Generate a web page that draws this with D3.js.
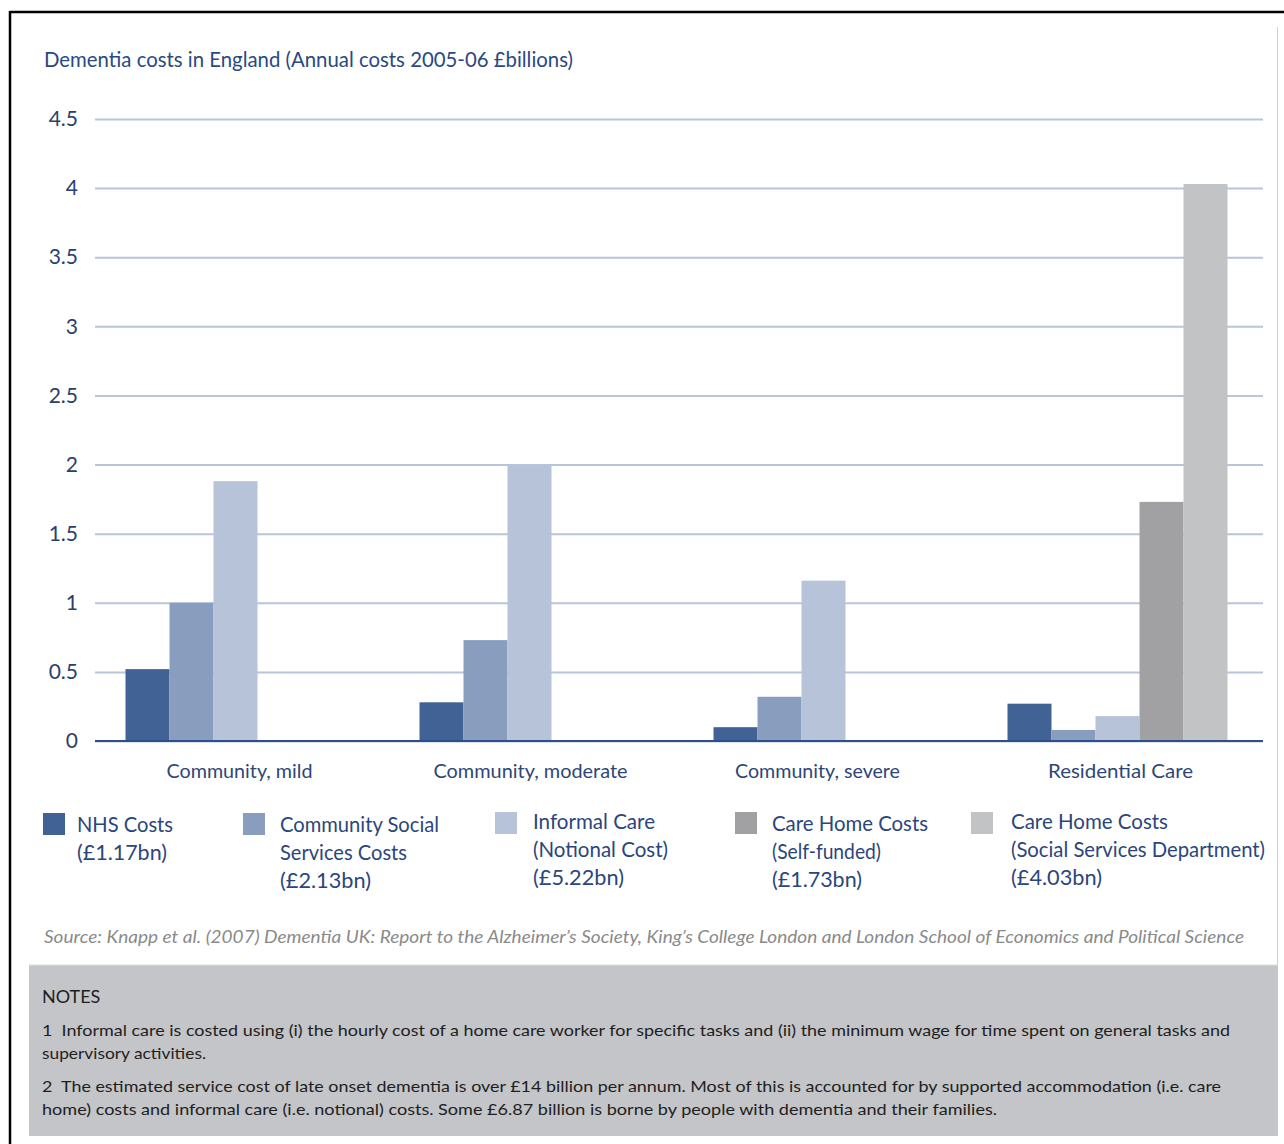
<!DOCTYPE html>
<html>
<head>
<meta charset="utf-8">
<script src="https://cdn.jsdelivr.net/npm/d3@7"></script>
<style>
  html, body { margin: 0; padding: 0; background: #fff; }
  svg { display: block; }
  text { font-family: Lato, "Open Sans", sans-serif; }
</style>
</head>
<body>
<svg id="chart" width="1284" height="1144"></svg>
<script>
// ---------- DATA ----------
const categories = ["Community, mild", "Community, moderate", "Community, severe", "Residential Care"];
const seriesKeys = ["nhs", "communitySocial", "informal", "careHomeSelf", "careHomeSSD"];
const nhsCosts = [0.52, 0.28, 0.10, 0.27];
const communitySocialCosts = [1.00, 0.73, 0.32, 0.08];
const informalCareCosts = [1.88, 1.99, 1.16, 0.18];
const careHomeSelfFunded = [0, 0, 0, 1.73];
const careHomeSocialServices = [0, 0, 0, 4.03];
const yTicks = [0, 0.5, 1, 1.5, 2, 2.5, 3, 3.5, 4, 4.5];
const yTickLabels = ["0", "0.5", "1", "1.5", "2", "2.5", "3", "3.5", "4", "4.5"];
const legendLabels = [
  ["NHS Costs", "(£1.17bn)"],
  ["Community Social", "Services Costs", "(£2.13bn)"],
  ["Informal Care", "(Notional Cost)", "(£5.22bn)"],
  ["Care Home Costs", "(Self-funded)", "(£1.73bn)"],
  ["Care Home Costs", "(Social Services Department)", "(£4.03bn)"]
];
const titleText = "Dementia costs in England (Annual costs 2005-06 £billions)";
const sourceText = "Source: Knapp et al. (2007) Dementia UK: Report to the Alzheimer’s Society, King’s College London and London School of Economics and Political Science";
const notesHeading = "NOTES";
const noteLines = [
  "1  Informal care is costed using (i) the hourly cost of a home care worker for specific tasks and (ii) the minimum wage for time spent on general tasks and",
  "supervisory activities.",
  "2  The estimated service cost of late onset dementia is over £14 billion per annum. Most of this is accounted for by supported accommodation (i.e. care",
  "home) costs and informal care (i.e. notional) costs. Some £6.87 billion is borne by people with dementia and their families."
];

// ---------- STYLE / LAYOUT ----------
const colors = {
  nhs: "#416295", communitySocial: "#899ebf", informal: "#b6c3d8",
  careHomeSelf: "#a1a1a3", careHomeSSD: "#c2c3c5"
};
const seriesValues = {
  nhs: nhsCosts, communitySocial: communitySocialCosts, informal: informalCareCosts,
  careHomeSelf: careHomeSelfFunded, careHomeSSD: careHomeSocialServices
};
const textBlue = "#2b467d";

const svg = d3.select("#chart");
svg.append("rect").attr("width", 1284).attr("height", 1144).attr("fill", "#fff");

function fit(sel, w) {
  sel.each(function () {
    const n = this.getComputedTextLength();
    if (Math.abs(n - w) > 1) {
      d3.select(this).attr("textLength", w).attr("lengthAdjust", "spacingAndGlyphs");
    }
  });
}

// frame
svg.append("line").attr("x1", 10).attr("x2", 1284).attr("y1", 12).attr("y2", 12)
  .attr("stroke", "#000").attr("stroke-width", 2.5);
svg.append("line").attr("x1", 10).attr("x2", 10).attr("y1", 11).attr("y2", 1144)
  .attr("stroke", "#000").attr("stroke-width", 2.5);
svg.append("line").attr("x1", 1277.5).attr("x2", 1277.5).attr("y1", 27).attr("y2", 966)
  .attr("stroke", "#d0d0d0").attr("stroke-width", 1);

// title
svg.append("text").attr("x", 44).attr("y", 67).text(titleText)
  .attr("font-size", 21).attr("fill", "#284983").call(fit, 529);

// scales
const y = d3.scaleLinear().domain([0, 4.5]).range([741, 119]);
const x0 = d3.scaleBand().domain(categories).range([88.5, 1264.5]);
const x1 = d3.scaleBand().domain(seriesKeys).range([0, x0.bandwidth()]).paddingOuter(0.841);

// grid + y axis
const gridLeft = 95, gridRight = 1263;
const yAxis = d3.axisLeft(y).tickValues(yTicks)
  .tickFormat((d, i) => yTickLabels[i])
  .tickSize(-(gridRight - gridLeft)).tickPadding(17);
const gAxis = svg.append("g").attr("transform", `translate(${gridLeft},0)`).call(yAxis);
gAxis.select(".domain").remove();
gAxis.selectAll(".tick line").attr("stroke", "#b9c5da").attr("stroke-width", 2);
gAxis.selectAll(".tick text").attr("font-size", 21).attr("fill", "#2a3f6e")
  .attr("font-family", "Lato, 'Open Sans', sans-serif");

// bars
const groups = svg.append("g").selectAll("g").data(categories).join("g")
  .attr("transform", d => `translate(${x0(d)},0)`);
groups.selectAll("rect")
  .data((c, ci) => seriesKeys.map(k => ({ key: k, value: seriesValues[k][ci] })))
  .join("rect")
  .filter(d => d.value > 0)
  .attr("x", d => x1(d.key))
  .attr("width", x1.bandwidth())
  .attr("y", d => y(d.value))
  .attr("height", d => y(0) - y(d.value))
  .attr("fill", d => colors[d.key]);

// zero line
svg.append("line").attr("x1", gridLeft).attr("x2", gridRight)
  .attr("y1", y(0)).attr("y2", y(0)).attr("stroke", "#2d4f8a").attr("stroke-width", 2);

// category labels
const catWidths = [146, 194, 165, 145];
const catShift = [4, 1, -6, 3];
categories.forEach((c, i) => {
  svg.append("text").attr("x", x0(c) + x0.bandwidth() / 2 + catShift[i]).attr("y", 778)
    .attr("text-anchor", "middle").attr("font-size", 20).attr("fill", "#2e4777")
    .text(c).call(fit, catWidths[i]);
});

// legend
const legendSquareX = [43, 243, 495, 735, 971];
const legendSquareY = [813, 813, 812, 812, 812];
const legendTextX = [77, 280, 533, 772, 1011];
const legendFirstBaseline = [832, 832, 829, 831, 829];
const legendWidths = [
  [96, 90], [159, 127, 91], [122, 135, 91], [156, 109, 90], [157, 254, 91]
];
seriesKeys.forEach((k, i) => {
  svg.append("rect").attr("x", legendSquareX[i]).attr("y", legendSquareY[i])
    .attr("width", 22).attr("height", 22).attr("fill", colors[k]);
  legendLabels[i].forEach((line, j) => {
    svg.append("text").attr("x", legendTextX[i]).attr("y", legendFirstBaseline[i] + j * 28)
      .attr("font-size", 21).attr("fill", textBlue).text(line)
      .call(fit, legendWidths[i][j]);
  });
});

// source
svg.append("text").attr("x", 44).attr("y", 943).attr("font-size", 17)
  .attr("font-style", "italic").attr("fill", "#8a8a8a").text(sourceText).call(fit, 1200);

// notes box
svg.append("rect").attr("x", 29).attr("y", 965).attr("width", 1249).attr("height", 171)
  .attr("fill", "#c4c5c8");
svg.append("line").attr("x1", 29).attr("x2", 1278).attr("y1", 965).attr("y2", 965)
  .attr("stroke", "#dcdcde").attr("stroke-width", 1);
svg.append("text").attr("x", 42).attr("y", 1003).attr("font-size", 18)
  .attr("fill", "#1e1e1e").text(notesHeading).call(fit, 59);
const noteBaselines = [1036, 1059, 1092, 1115];
const noteWidths = [1188, 164, 1179, 955];
noteLines.forEach((line, i) => {
  svg.append("text").attr("x", 42).attr("y", noteBaselines[i]).attr("font-size", 16)
    .attr("fill", "#1e1e1e").attr("xml:space", "preserve").style("white-space", "pre")
    .text(line).call(fit, noteWidths[i]);
});
</script>
</body>
</html>
